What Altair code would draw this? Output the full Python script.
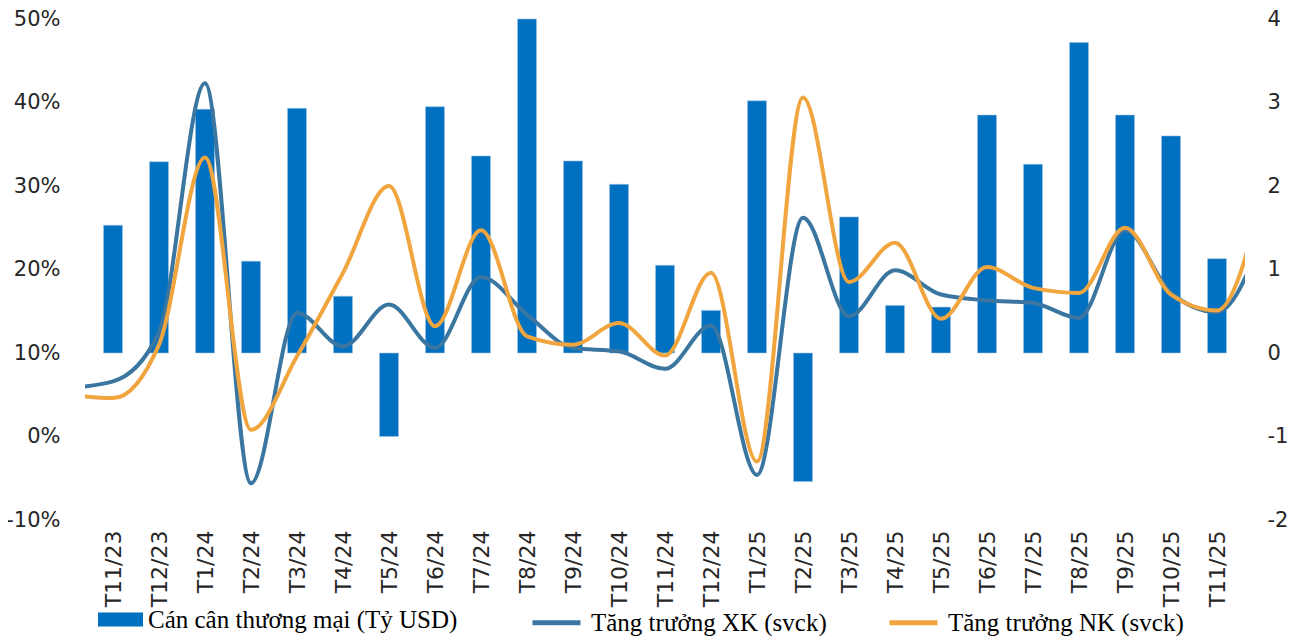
import altair as alt
import pandas as pd

months = ["T11/23", "T12/23", "T1/24", "T2/24", "T3/24", "T4/24", "T5/24", "T6/24",
          "T7/24", "T8/24", "T9/24", "T10/24", "T11/24", "T12/24", "T1/25", "T2/25",
          "T3/25", "T4/25", "T5/25", "T6/25", "T7/25", "T8/25", "T9/25", "T10/25", "T11/25"]

# Trade balance (billion USD), right axis
balance = [1.53, 2.29, 2.92, 1.10, 2.93, 0.68, -1.00, 2.95, 2.36, 4.00, 2.30, 2.02, 1.05,
           0.51, 3.02, -1.54, 1.63, 0.57, 0.55, 2.85, 2.26, 3.72, 2.85, 2.60, 1.13]

# Growth lines (% y/y), left axis; first/last values are the months just outside the
# axis (T10/23, T12/25) whose segments are clipped at the plot edge
export_growth = [5.8, 6.6, 12.5, 42.3, -5.6, 14.8, 10.8, 15.8, 10.6, 19.1, 14.6, 10.6, 10.2,
                 8.1, 13.3, -4.6, 26.2, 14.4, 19.9, 17.0, 16.3, 16.0, 14.2, 24.7, 17.2, 14.9, 24.0]
import_growth = [5.0, 4.6, 11.0, 33.4, 0.8, 9.6, 19.6, 30.0, 13.2, 24.7, 12.0, 11.0, 13.6,
                 9.7, 19.6, -3.0, 40.6, 18.5, 23.2, 14.1, 20.3, 17.8, 17.2, 25.0, 17.0, 15.1, 29.0]

bar_name = "Cán cân thương mại (Tỷ USD)"
xk_name = "Tăng trưởng XK (svck)"
nk_name = "Tăng trưởng NK (svck)"

n = len(months)
bars_df = pd.DataFrame({"idx": list(range(n)), "month": months, "value": balance,
                        "series": [bar_name] * n})
line_idx = list(range(-1, n + 1))
lines_df = pd.DataFrame({
    "idx": line_idx * 2,
    "value": export_growth + import_growth,
    "series": [xk_name] * len(line_idx) + [nk_name] * len(line_idx),
})

AXIS_FONT = "DejaVu Sans"
TXT = "#262626"
LEG_FONT = "Liberation Serif"
LEG_SIZE = 25
label_js = "[" + ",".join(f"'{m}'" for m in months) + "]"
num_expr = "(datum.value < 0 ? '-' : '') + abs(datum.value)"

x_enc = alt.X(
    "idx:Q",
    scale=alt.Scale(domain=[-0.5, n - 0.5], nice=False, zero=False),
    axis=alt.Axis(values=list(range(n)), labelExpr=f"{label_js}[datum.value]",
                  labelAngle=-90, labelPadding=10, ticks=False, tickSize=0, domain=False,
                  grid=False, labelFont=AXIS_FONT, labelFontSize=22, labelColor=TXT,
                  labelOverlap=False, labelBound=False, labelFlush=False),
    title=None,
)

bars = alt.Chart(bars_df).mark_bar(size=19, stroke="#9DC3E6", strokeWidth=0.6).encode(
    x=x_enc,
    y=alt.Y("value:Q",
            scale=alt.Scale(domain=[-2, 4], nice=False, zero=False),
            axis=alt.Axis(orient="right", values=[-2, -1, 0, 1, 2, 3, 4], grid=False,
                          ticks=False, tickSize=0, domain=False, labelPadding=22,
                          labelExpr=num_expr,
                          labelFont=AXIS_FONT, labelFontSize=21, labelColor=TXT,
                          labelAlign="left"),
            title=None),
    y2=alt.datum(0),
    fill=alt.Fill("series:N", scale=alt.Scale(domain=[bar_name], range=["#0070C0"]),
                  legend=alt.Legend(title=None, orient="none", legendX=13, legendY=578,
                                    padding=0, symbolType="M-1,-0.31H1V0.31H-1Z",
                                    symbolSize=2025, symbolStrokeWidth=0,
                                    labelFont=LEG_FONT, labelFontSize=LEG_SIZE,
                                    labelColor="#000000", labelOffset=5, labelLimit=600)),
)

stroke_scale = alt.Scale(domain=[xk_name, nk_name], range=["#3A76A0", "#F0A53F"])
stroke_legend = alt.Legend(title=None, orient="none", direction="horizontal",
                           legendX=445, legendY=577, padding=0, symbolType="stroke",
                           symbolSize=2304, symbolStrokeWidth=5, columnPadding=52,
                           labelFont=LEG_FONT, labelFontSize=LEG_SIZE,
                           labelColor="#000000", labelOffset=8, labelLimit=600)

y_left = alt.Y("value:Q",
               scale=alt.Scale(domain=[-10, 50], nice=False, zero=False),
               axis=alt.Axis(orient="left", values=[-10, 0, 10, 20, 30, 40, 50], grid=False,
                             ticks=False, tickSize=0, domain=False, labelPadding=25,
                             labelExpr=num_expr + " + '%'", labelFont=AXIS_FONT,
                             labelFontSize=21, labelColor=TXT),
               title=None)

line_xk = alt.Chart(lines_df).transform_filter(
    alt.datum.series == xk_name
).mark_line(interpolate="monotone", strokeWidth=4, clip=True).encode(
    x=x_enc, y=y_left,
    stroke=alt.Stroke("series:N", scale=stroke_scale, legend=stroke_legend),
)
line_nk = alt.Chart(lines_df).transform_filter(
    alt.datum.series == nk_name
).mark_line(interpolate="monotone", strokeWidth=4, clip=True).encode(
    x=x_enc, y=y_left,
    stroke=alt.Stroke("series:N", scale=stroke_scale, legend=stroke_legend),
)

lines = alt.layer(line_xk, line_nk)

chart = alt.layer(bars, lines).resolve_scale(y="independent").properties(
    width=1160, height=501,
    autosize=alt.AutoSizeParams(type="none"),
    padding={"left": 77, "top": 11, "right": 51, "bottom": 116},
).configure_view(stroke=None)

chart.save("out.html", embed_options={"renderer": "svg", "actions": False})
